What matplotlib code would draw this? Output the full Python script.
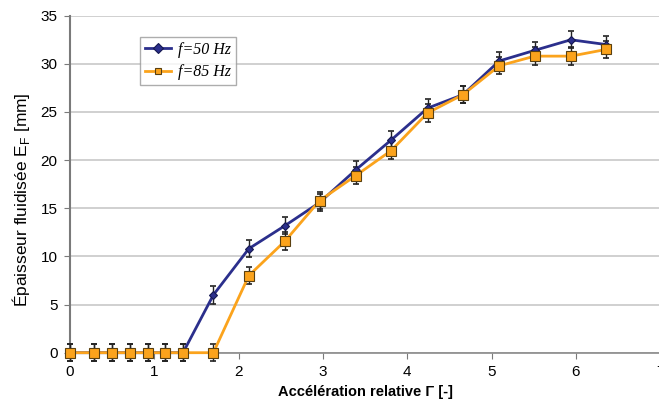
import matplotlib
matplotlib.use("Agg")
import matplotlib.pyplot as plt
import numpy as np

# Data
gamma = [0.0, 0.29, 0.50, 0.71, 0.92, 1.13, 1.34, 1.70, 2.12, 2.55, 2.96,
         3.39, 3.81, 4.24, 4.66, 5.09, 5.51, 5.94, 6.36]
ef_50hz = [0, 0, 0, 0, 0, 0, 0, 6.0, 10.8, 13.2, 15.6,
           19.0, 22.1, 25.4, 26.8, 30.3, 31.4, 32.5, 32.0]
ef_85hz = [0, 0, 0, 0, 0, 0, 0, 0, 8.0, 11.6, 15.8,
           18.4, 21.0, 24.9, 26.8, 29.8, 30.8, 30.8, 31.5]
err = 0.9
series_labels = ["f=50 Hz", "f=85 Hz"]
xticks = [0, 1, 2, 3, 4, 5, 6, 7]
yticks = [0, 5, 10, 15, 20, 25, 30, 35]

plt.rcParams['font.family'] = ['Liberation Sans', 'DejaVu Sans']

fig = plt.figure(figsize=(6.59, 4.08), dpi=100)
ax = fig.add_axes([70/659, 1 - 352.7/408, 1 - 70/659 + 0.002, (352.7 - 15.7)/408])

navy = '#2B2F8C'
orange = '#FBA31C'

for ys in (ef_50hz, ef_85hz):
    _, caps, bars = ax.errorbar(gamma, ys, yerr=err, fmt='none', ecolor='#222222',
                                elinewidth=1.0, capsize=2.5, capthick=1.2, zorder=3)
    for c in caps:
        c.set_clip_on(False)
    for b in bars:
        b.set_clip_on(False)

l1, = ax.plot(gamma, ef_50hz, color=navy, lw=2.0, marker='D', ms=4.5,
              mfc=navy, mec='#151850', mew=0.8, zorder=4, label=series_labels[0],
              clip_on=False)
l2, = ax.plot(gamma, ef_85hz, color=orange, lw=2.0, marker='s', ms=6.5,
              mfc=orange, mec='#5a4010', mew=0.8, zorder=5, label=series_labels[1],
              clip_on=False)

ax.set_xlim(0, 7)
ax.set_ylim(0, 35)
ax.set_xticks(xticks)
ax.set_yticks(yticks)
ax.yaxis.grid(True, color='#c8c8c8', lw=1.2)
ax.set_axisbelow(True)

for s in ['top', 'right']:
    ax.spines[s].set_visible(False)
ax.spines['left'].set_color('#7a7a7a')
ax.spines['bottom'].set_color('#8a8a8a')
ax.spines['left'].set_linewidth(1.5)
ax.spines['bottom'].set_linewidth(1.2)
ax.tick_params(axis='both', direction='out', length=4, color='#7a7a7a',
               labelsize=11, pad=5)

ax.set_xlabel('Accélération relative Γ [-]', fontsize=10.5, fontweight='bold', labelpad=4)
ax.set_ylabel('Épaisseur fluidisée E$_\\mathregular{F}$ [mm]', fontsize=12.5, labelpad=6)
ax.yaxis.set_label_coords(-0.065, 0.455)

leg = ax.legend(handles=[l1, l2], loc='upper left', bbox_to_anchor=(0.119, 0.937),
                borderaxespad=0, frameon=True, fancybox=False,
                prop={'family': 'Liberation Serif', 'style': 'italic', 'size': 11.5},
                handlelength=1.6, handletextpad=0.45, borderpad=0.3, labelspacing=0.4)
leg.get_frame().set_edgecolor('#999999')
leg.get_frame().set_linewidth(1.0)
for h in leg.legend_handles:
    h.set_markersize(5)

fig.savefig('out.png', dpi=100)
